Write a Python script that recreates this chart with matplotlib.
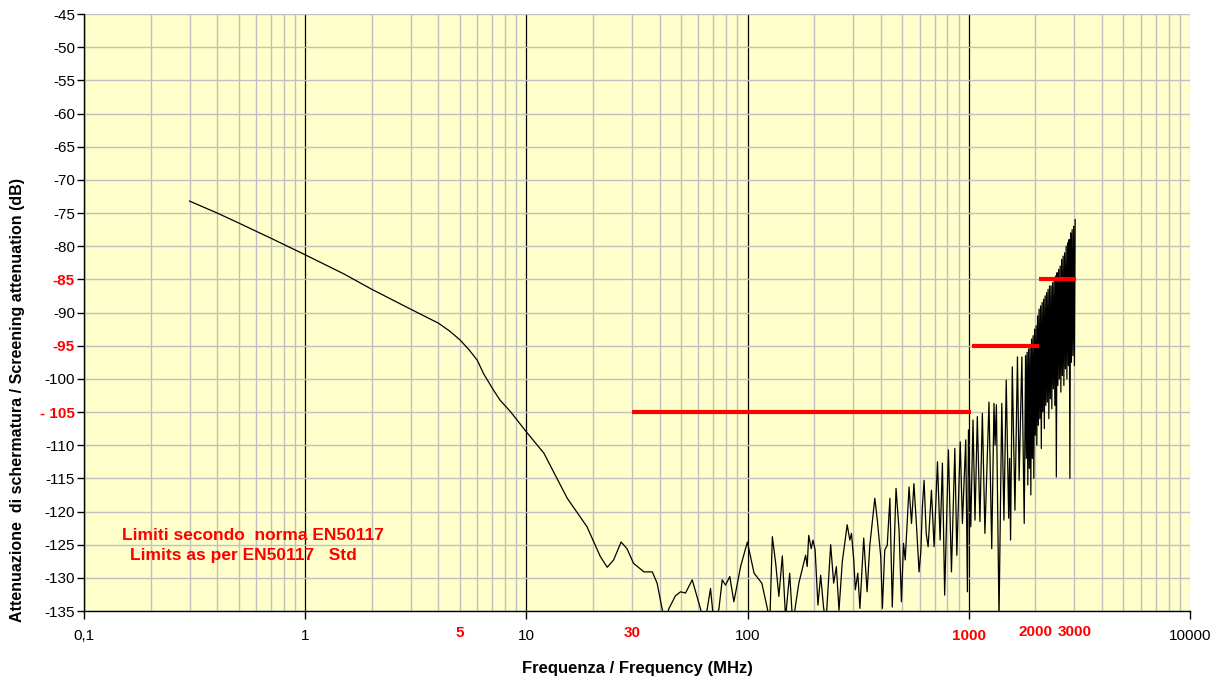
import numpy as np
import matplotlib.pyplot as plt
import matplotlib.transforms as mtransforms
from matplotlib.ticker import FixedLocator, NullFormatter

freq_mhz = [
    0.3, 0.4, 0.5, 0.7, 1.0, 1.5, 2.0, 3.0, 4.0, 4.5, 5.0, 5.5, 6.0, 6.4, 7.1, 7.6,
    8.5, 10, 12, 15.3,
    18.8, 21.6, 23.2, 24.8, 26.8, 28.5, 30.5, 34.0, 37.1, 39.0, 41.1, 42.5, 44.0,
    47.2, 49.8, 52.4, 56.2, 61.3, 63, 65.7, 68.0, 70.5, 74.2, 76.8, 79.5, 83.1,
    86.7, 93, 99.8, 107, 116, 123, 126, 129.4, 134, 138.5, 143.6, 148.5, 155, 160,
    170.5, 183, 186, 189, 194, 197.5, 202, 208, 214, 220.5, 226, 237.5, 245, 252,
    259, 268, 282, 290, 295, 302, 307, 315, 322, 335, 347, 357, 376, 386, 400, 407,
    417, 428, 440, 451, 469, 484, 496, 507, 516, 537, 551, 565, 580, 596, 607, 617,
    628, 642, 655, 678, 697, 722, 742, 760, 778, 809, 835, 865, 883, 915, 936, 969,
    986, 997, 1021, 1045, 1067, 1093, 1123, 1152, 1183, 1234, 1270, 1300, 1315,
    1333, 1370, 1410, 1442, 1477, 1515, 1530, 1545, 1573, 1617, 1660, 1689, 1738,
    1781,
    1806, 1820, 1834, 1849, 1863, 1878, 1893, 1908, 1923, 1938, 1953, 1968, 1984,
    1999, 2015, 2031, 2047, 2063, 2079, 2095, 2112, 2128, 2145, 2162, 2179, 2196,
    2213, 2230, 2248, 2265, 2283, 2301, 2319, 2337, 2356, 2374, 2393, 2412, 2431,
    2450, 2469, 2488, 2508, 2528, 2548, 2568, 2588, 2608, 2629, 2649, 2670, 2691,
    2712, 2734, 2755, 2777, 2799, 2821, 2843, 2865, 2888, 2910, 2933, 2956, 2980,
    3003, 3027,
]
atten_db = [
    -73.2, -75.0, -76.5, -78.8, -81.3, -84.2, -86.5, -89.5, -91.6, -92.8, -94.1,
    -95.6, -97.2, -99.2, -101.7, -103.2, -105.0, -108.0, -111.2, -118.0,
    -122.3, -126.8, -128.4, -127.3, -124.6,
    -125.6, -127.8, -129.1, -129.1, -130.8, -134.7, -137.0, -134.7, -132.7, -132.1,
    -132.3, -130.3, -134.7, -137.0, -134.7, -131.6, -137.0, -134.7, -130.3, -131.1,
    -129.8, -133.6, -128.3, -124.6, -129.3, -130.8, -134.7, -137.0, -123.8, -127.8,
    -132.8, -126.7, -136.0, -129.3, -137.0, -130.8, -126.6, -128.3, -123.6, -125.6,
    -124.3, -125.8, -134.1, -129.6, -134.4, -137.0, -125.0, -130.8, -128.3, -134.9,
    -127.6, -122.0, -124.3, -123.3, -127.3, -131.8, -129.3, -134.6, -124.0, -132.1,
    -125.1, -118.0, -121.3, -126.8, -134.6, -125.8, -125.1, -118.0, -134.4, -116.5,
    -122.8, -133.6, -124.8, -127.3, -116.3, -121.8, -115.8, -122.0, -129.1, -126.1,
    -119.3, -115.3, -123.3, -125.3, -116.8, -125.3, -112.5, -124.3, -112.7, -132.6,
    -110.7, -129.1, -110.5, -126.6, -109.5, -121.8, -109.2, -132.1, -107.7, -122.3,
    -106.2, -121.3, -105.7, -121.5, -105.2, -123.3, -103.5, -125.6, -103.7, -110.0,
    -103.9, -136.0, -103.7, -121.3, -100.2, -121.0, -112.0, -124.3, -98.2, -119.8,
    -96.7, -115.3, -96.7, -121.8,
    -96.5, -112.0, -96.0, -116.0, -95.5, -113.5, -95.0, -117.5, -94.0, -112.0,
    -93.5, -115.0, -92.5, -108.5, -92.0, -110.0, -90.5, -107.0, -89.5, -106.0,
    -89.0, -110.5, -88.5, -105.0, -88.0, -107.5, -87.5, -104.0, -87.0, -103.5,
    -86.5, -106.0, -86.0, -103.0, -86.0, -104.5, -85.5, -101.5, -85.0, -104.0,
    -84.5, -114.8, -84.0, -101.0, -83.5, -100.0, -83.0, -102.0, -82.0, -99.5,
    -81.5, -101.0, -81.0, -98.5, -80.0, -100.0, -79.5, -98.0, -79.0, -115.0,
    -78.0, -97.5, -77.5, -96.5, -77.0, -98.0, -76.0,
]

# EN50117 limit segments
limit_start = [30, 1030, 2070]
limit_end = [1020, 2070, 3050]
limit_db = [-105, -95, -85]

y_ticks = list(range(-135, -44, 5))
red_y = {-85: "-85", -95: "-95", -105: "- 105"}
x_major = [0.1, 1, 10, 100, 1000, 10000]
x_major_labels = ["0,1", "1", "10", "100", "1000", "10000"]
red_x = [5, 30, 2000, 3000]

plt.rcParams['font.family'] = ['Liberation Sans', 'DejaVu Sans']

fig = plt.figure(figsize=(12.24, 6.83), dpi=100)
ax = fig.add_axes([0.0686, 0.1054, 0.9036, 0.8741])
ax.set_facecolor('#ffffcc')

ax.plot(freq_mhz, atten_db, color='black', lw=0.9, zorder=3)
for x0, x1, y in zip(limit_start, limit_end, limit_db):
    ax.plot([x0, x1], [y, y], color='#ff0000', lw=3.0, solid_capstyle='butt', zorder=4)

ax.set_xscale('log')
ax.set_xlim(0.1, 10000)
ax.set_ylim(-135, -45)

# x axis: decades labelled, 2..9 only as grid
ax.xaxis.set_major_locator(FixedLocator(x_major))
ax.set_xticklabels(x_major_labels)
minor = [m * d for d in x_major[:-1] for m in range(2, 10)]
ax.xaxis.set_minor_locator(FixedLocator(minor))
ax.xaxis.set_minor_formatter(NullFormatter())
ax.tick_params(axis='x', which='major', length=6, width=1, direction='out',
               labelsize=11, pad=7)
ax.tick_params(axis='x', which='minor', length=0)
for lbl in ax.get_xticklabels():
    if lbl.get_text() == "1000":
        lbl.set_color('#ff0000')
        lbl.set_fontweight('bold')

ax.set_yticks(y_ticks)
ax.set_yticklabels([red_y.get(v, str(v)) for v in y_ticks])
ax.tick_params(axis='y', length=5, width=1, direction='out', labelsize=11, pad=1.5)
for v, lbl in zip(y_ticks, ax.get_yticklabels()):
    if v in red_y:
        lbl.set_color('#ff0000')
        lbl.set_fontweight('bold')

# grid
ax.set_axisbelow(True)
ax.yaxis.grid(True, color='#c0c0c0', lw=1.0)
ax.xaxis.grid(True, which='minor', color='#c0c0c0', lw=1.0)
ax.xaxis.grid(True, which='major', color='black', lw=0.9)
ax.xaxis.get_major_ticks()[-1].gridline.set_color('#c0c0c0')

for side in ['top', 'right']:
    ax.spines[side].set_visible(False)
for side in ['left', 'bottom']:
    ax.spines[side].set_color('black')
    ax.spines[side].set_linewidth(1.0)

# extra red frequency labels
trans = mtransforms.blended_transform_factory(ax.transData, ax.transAxes)
for f in red_x:
    dy = -0.035 if f >= 2000 else -0.037
    ax.text(f, dy, str(f), transform=trans, ha='center', va='center',
            color='#ff0000', fontsize=11, fontweight='bold')

ax.set_xlabel("Frequenza / Frequency (MHz)", fontsize=12, fontweight='bold', labelpad=13)
ax.set_ylabel("Attenuazione  di schermatura / Screening attenuation (dB)",
              fontsize=11.5, fontweight='bold')
ax.yaxis.set_label_coords(-0.053, 0.353)

ax.text(0.034, 0.126, "Limiti secondo  norma EN50117", transform=ax.transAxes,
        color='#ff0000', fontsize=12.5, fontweight='bold', ha='left', va='center')
ax.text(0.042, 0.093, "Limits as per EN50117   Std", transform=ax.transAxes,
        color='#ff0000', fontsize=12.5, fontweight='bold', ha='left', va='center')

fig.savefig('out.png', dpi=100, facecolor='white')
